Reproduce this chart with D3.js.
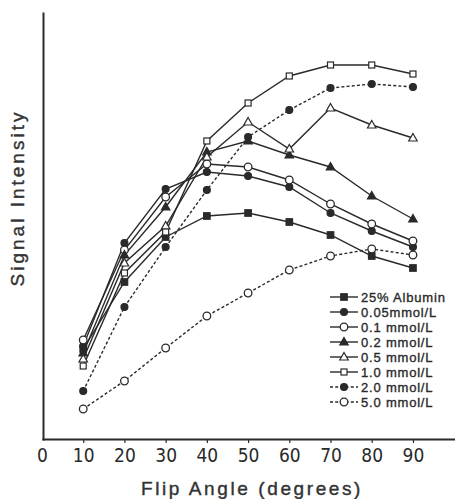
<!DOCTYPE html>
<html><head><meta charset="utf-8">
<script src="https://cdn.jsdelivr.net/npm/d3@7"></script>
<style>body{margin:0;background:#fff}svg{display:block}</style>
</head><body>
<svg id="c" width="455" height="499"></svg>
<script>
const flipAngles = [10,20,30,40,50,60,70,80,90];
const xTicks = [0,10,20,30,40,50,60,70,80,90];
const seriesNames = ["25% Albumin","0.05mmol/L","0.1 mmol/L","0.2 mmol/L","0.5 mmol/L","1.0 mmol/L","2.0 mmol/L","5.0 mmol/L"];
const albumin = [22.75,39.5,50.75,56,56.75,54.5,51.25,46,43];
const c005    = [23.5,49.25,62.75,67,66,63.25,56.75,52.25,48.25];
const c01     = [25,47.5,60.75,69,68.25,65,59,54,49.75];
const c02     = [21.75,46.25,58.25,72,74.75,71.25,68.25,61,55.25];
const c05     = [20.25,44.25,53.5,70.75,79.5,72.75,83,78.75,75.5];
const c10     = [18.5,41.75,52,74.75,84.25,91,93.75,93.75,91.5];
const c20     = [12.25,33.25,48.25,62.5,75.75,82.5,88,89,88.25];
const c50     = [7.75,14.75,23,31,36.75,42.5,46,47.75,46.25];
const seriesValues = [albumin,c005,c01,c02,c05,c10,c20,c50];
const markers = ["filledSquare","filledCircle","openCircle","filledTriangle","openTriangle","openSquare","filledCircle","openCircle"];
const dashed = [false,false,false,false,false,false,true,true];
const xDomain = [0,100.2];
const yDomain = [0,107];

const svg = d3.select("#c");
const ink = "#2a2a2a";
const x = d3.scaleLinear().domain(xDomain).range([42,455]);
const y = d3.scaleLinear().domain(yDomain).range([440,12]);

// axes
const xAxis = svg.append("g").attr("transform","translate(0,439)")
  .call(d3.axisBottom(x).tickValues(xTicks).tickSize(4).tickSizeOuter(0).tickFormat(d3.format("d")));
xAxis.select(".domain").attr("stroke",ink).attr("stroke-width",2.2);
xAxis.selectAll(".tick line").attr("stroke",ink).attr("stroke-width",1.2).filter(d=>d===0).remove();
xAxis.selectAll(".tick text").attr("fill",ink).attr("font-family","'Liberation Sans Narrow','DejaVu Sans Condensed',Arial,sans-serif")
  .attr("font-size",19).attr("dy",0).attr("y",23);

const yAxis = svg.append("g").attr("transform","translate(43,0)")
  .call(d3.axisLeft(y).ticks(0).tickSizeOuter(0));
yAxis.select(".domain").attr("stroke",ink).attr("stroke-width",2);

// lines
const line = d3.line().x((d,i)=>x(flipAngles[i])).y(d=>y(d));
seriesValues.forEach((vals,si)=>{
  svg.append("path").datum(vals).attr("d",line).attr("fill","none")
    .attr("stroke",ink).attr("stroke-width",1.4)
    .attr("stroke-dasharray",dashed[si]?"3,2.2":null);
});

function drawMarker(g,type,cx,cy){
  const filled = type.startsWith("filled");
  const fill = filled?ink:"#fff";
  if(type.endsWith("Square")){
    const s = filled?6.5:6;
    g.append("rect").attr("x",cx-s/2).attr("y",cy-s/2).attr("width",s).attr("height",s)
      .attr("fill",fill).attr("stroke",ink).attr("stroke-width",1.2);
  } else if(type.endsWith("Circle")){
    g.append("circle").attr("cx",cx).attr("cy",cy).attr("r",filled?3.4:3.8)
      .attr("fill",fill).attr("stroke",ink).attr("stroke-width",1.3);
  } else {
    const h=7.5,w=8.5;
    g.append("path").attr("d",`M${cx},${cy-h*0.6}L${cx+w/2},${cy+h*0.4}L${cx-w/2},${cy+h*0.4}Z`)
      .attr("fill",fill).attr("stroke",ink).attr("stroke-width",1.2);
  }
}
seriesValues.forEach((vals,si)=>{
  const g = svg.append("g");
  vals.forEach((v,i)=>drawMarker(g,markers[si],x(flipAngles[i]),y(v)));
});

// legend
const lg = svg.append("g");
seriesNames.forEach((name,i)=>{
  const cy = 297 + i*15;
  lg.append("line").attr("x1",330).attr("x2",358).attr("y1",cy).attr("y2",cy)
    .attr("stroke",ink).attr("stroke-width",1.4).attr("stroke-dasharray",dashed[i]?"3,2.2":null);
  drawMarker(lg,markers[i],344,cy);
  lg.append("text").attr("x",361).attr("y",cy+4.5).text(name)
    .attr("font-family","'Liberation Sans',Arial,sans-serif").attr("font-size",13)
    .attr("letter-spacing",0.8).attr("stroke",ink).attr("stroke-width",0.35).attr("fill",ink);
});

// axis titles
svg.append("text").attr("transform","translate(24,198) rotate(-90)").attr("text-anchor","middle")
  .attr("font-family","'Liberation Sans',Arial,sans-serif").attr("font-size",19).attr("letter-spacing",3)
  .attr("stroke","#333").attr("stroke-width",0.4).attr("fill","#333").text("Signal Intensity");
svg.append("text").attr("x",252).attr("y",495).attr("text-anchor","middle")
  .attr("font-family","'Liberation Sans',Arial,sans-serif").attr("font-size",19).attr("letter-spacing",2.6)
  .attr("stroke","#333").attr("stroke-width",0.4).attr("fill","#333").text("Flip Angle (degrees)");
</script>
</body></html>
